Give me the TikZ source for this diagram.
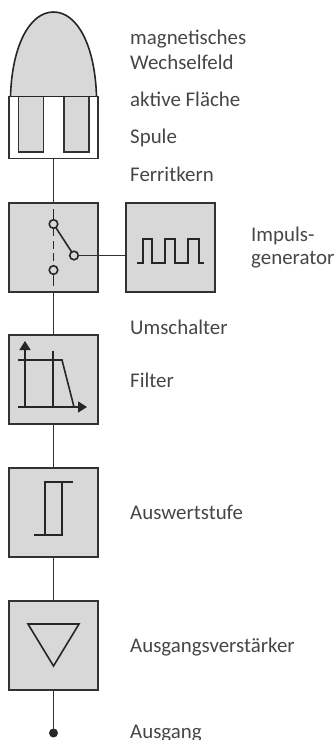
\documentclass[tikz,border=0pt]{standalone}
\usepackage{fontspec}
\setmainfont{Carlito}
\usetikzlibrary{arrows.meta}
\definecolor{fillg}{RGB}{215,216,215}
\definecolor{ink}{RGB}{50,50,50}
\definecolor{txt}{RGB}{70,70,70}
\tikzset{
  blockbox/.style={draw=ink,fill=fillg,line width=1.5pt,minimum width=89pt,minimum height=89pt,inner sep=0pt,outer sep=0pt,anchor=north west},
  wire/.style={draw=ink,line width=1.7pt},
  glyph/.style={draw=black!85,line width=1.6pt},
  label/.style={anchor=base west,inner sep=0pt,text=txt,font=\fontsize{20.9}{20.9}\selectfont},
  pin/.style={circle,draw=black!85,fill=fillg,line width=1.6pt,minimum size=8.6pt,inner sep=0pt,outer sep=0pt},
  headtip/.style={-{Triangle[length=9pt,width=11pt]}}
}
\begin{document}
\begin{tikzpicture}[x=1pt,y=-1pt]
\useasboundingbox (0,0) rectangle (334,740);
% sensor head
\fill[fillg] (10.5,96.5) .. controls (12,45) and (30,12) .. (53.5,12) .. controls (77,12) and (95,45) .. (96.5,96.5) -- cycle;
\draw[glyph] (10.5,96.5) .. controls (12,45) and (30,12) .. (53.5,12) .. controls (77,12) and (95,45) .. (96.5,96.5);
\node[draw=ink,fill=white,line width=1.5pt,minimum width=89pt,minimum height=62pt,inner sep=0pt,outer sep=0pt,anchor=north west] (coil) at (9,96.5) {};
\draw[draw=ink,fill=fillg,line width=1.5pt] (18.5,96.5) rectangle (43.5,152);
\draw[draw=ink,fill=fillg,line width=1.5pt] (64,96.5) rectangle (89,152);
\draw[glyph] (10.5,96.5) -- (96.5,96.5);
% blocks
\node[blockbox] (switch) at (9,203) {};
\node[blockbox] (pulse) at (126,203) {};
\node[blockbox] (filter) at (9,335) {};
\node[blockbox] (schmitt) at (9,468) {};
\node[blockbox] (amp) at (9,601) {};
\node[circle,fill=black!85,minimum size=9pt,inner sep=0pt] (out) at (53.5,733) {};
% connectors
\draw[wire] (coil.south) -- (switch.north);
\draw[wire] (switch.south) -- (filter.north);
\draw[wire] (filter.south) -- (schmitt.north);
\draw[wire] (schmitt.south) -- (amp.north);
\draw[wire] (amp.south) -- (out.center);
% switch symbol
\node[pin] (p1) at (53.5,224) {};
\node[pin] (p2) at (74,255.5) {};
\node[pin] (p3) at (53.5,270) {};
\draw[wire] (p2.east) -- (pulse.west |- p2.east);
\draw[glyph] (53.5,209) -- (p1.north);
\draw[glyph] (p3.south) -- (53.5,286);
\draw[glyph,dash pattern=on 8pt off 4.5pt] (p1.south) -- (p3.north);
\draw[glyph] (p1) -- (p2);
% pulse symbol
\draw[glyph] (137,263) -- (143,263) -- (143,239) -- (152,239) -- (152,263) -- (165,263) -- (165,239) -- (175,239) -- (175,263) -- (188,263) -- (188,239) -- (199,239) -- (199,263) -- (204,263);
% filter symbol
\draw[glyph,headtip] (25,407) -- (25,341);
\draw[glyph,headtip] (18,407) -- (87,407);
\draw[glyph] (18,360) -- (62,360) -- (74,407);
\draw[glyph] (53,351) -- (53,407);
% schmitt symbol
\draw[glyph] (34,535) -- (62,535) -- (62,482);
\draw[glyph] (45,535) -- (45,482) -- (73,482);
% amplifier symbol
\draw[glyph,line join=miter] (28,624) -- (79,624) -- (53.5,666) -- cycle;
% labels
\node[label] (t1) at (130,44) {magnetisches};
\node[label] (t2) at (130,69) {Wechselfeld};
\node[label] (t3) at (130,106) {aktive Fläche};
\node[label] (t4) at (130,143) {Spule};
\node[label] (t5) at (130,181) {Ferritkern};
\node[label] (t6) at (251,241) {Impuls-};
\node[label] (t7) at (251,264) {generator};
\node[label] (t8) at (130,334) {Umschalter};
\node[label] (t9) at (130,387) {Filter};
\node[label] (t10) at (130,519) {Auswertstufe};
\node[label] (t11) at (130,652) {Ausgangsverstärker};
\node[label] (t12) at (130,738) {Ausgang};
\end{tikzpicture}
\end{document}
